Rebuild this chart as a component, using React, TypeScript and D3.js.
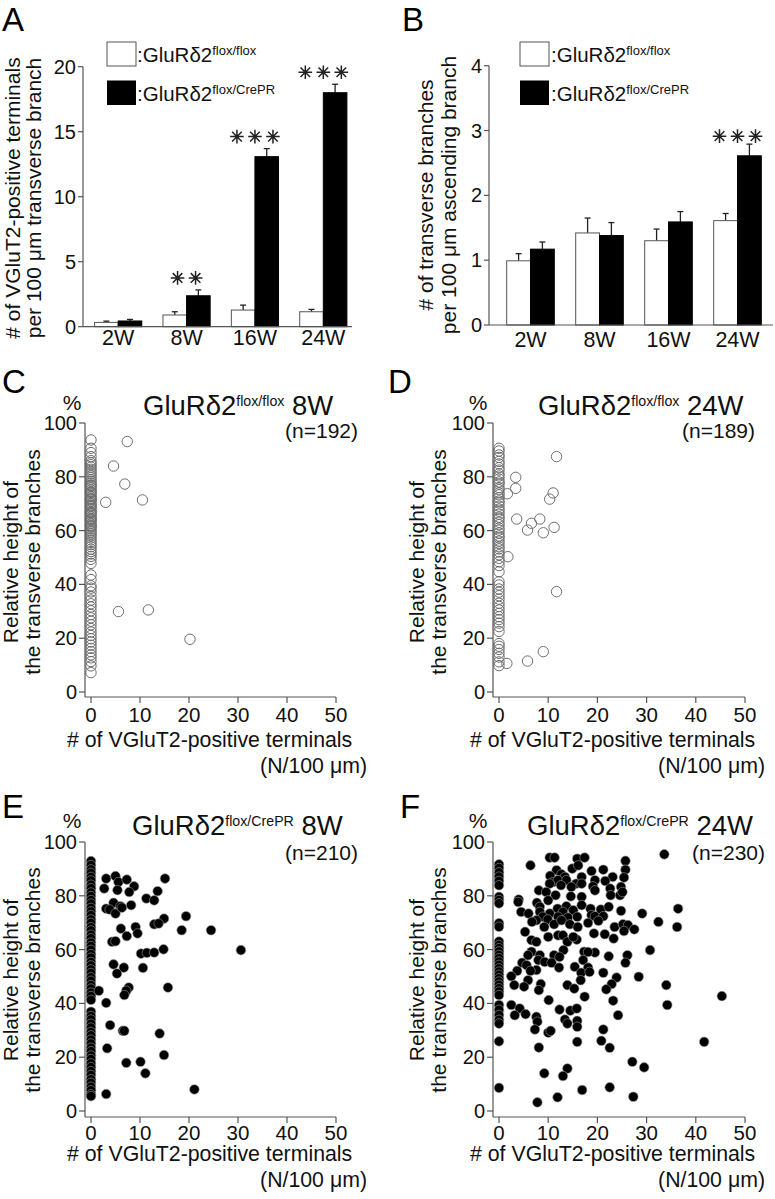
import React from 'react';
import * as d3 from 'd3';

const FONT = "'Liberation Sans', Arial, Helvetica, sans-serif";

// ---------- Bar chart data ----------
const weeks = ['2W', '8W', '16W', '24W'];
const series = ['flox', 'cre'];

const terminalsFlox = [0.33, 0.9, 1.28, 1.15];
const terminalsFloxErr = [0.1, 0.25, 0.38, 0.18];
const terminalsCre = [0.44, 2.38, 13.08, 18.0];
const terminalsCreErr = [0.12, 0.45, 0.62, 0.65];
const terminalsTicks = [0, 5, 10, 15, 20];
const terminalsStars = [0, 2, 3, 3];

const branchesFlox = [0.99, 1.42, 1.3, 1.61];
const branchesFloxErr = [0.11, 0.23, 0.18, 0.11];
const branchesCre = [1.17, 1.38, 1.59, 2.61];
const branchesCreErr = [0.11, 0.2, 0.16, 0.18];
const branchesTicks = [0, 1, 2, 3, 4];
const branchesStars = [0, 0, 0, 3];

// ---------- Scatter data ----------
const scatterXTicks = [0, 10, 20, 30, 40, 50];
const scatterYTicks = [0, 20, 40, 60, 80, 100];

// C: flox/flox 8W
const c8wZero = [93.7, 90.6, 89.0, 87.5, 86.0, 85.2, 84.5, 83.6, 82.8, 82.0, 81.3, 80.5, 79.8, 79.0, 78.4, 77.7, 77.0, 76.4, 75.8, 75.1, 74.5, 73.9, 73.2, 72.6, 72.0, 71.4, 70.8, 70.1, 69.5, 68.9, 68.3, 67.7, 67.0, 66.4, 65.8, 65.1, 64.5, 63.9, 63.3, 62.6, 62.0, 61.4, 60.8, 60.1, 59.5, 58.8, 58.1, 57.3, 56.5, 55.6, 54.8, 54.0, 53.1, 52.2, 51.3, 50.4, 49.3, 47.8, 76.8, 74.2, 71.7, 69.2, 66.7, 64.2, 61.7, 43.5, 41.8, 39.5, 38.6, 37.2, 35.5, 34.2, 32.8, 31.6, 30.2, 28.8, 27.6, 26.3, 25.0, 23.6, 22.3, 21.0, 19.8, 18.6, 17.4, 16.2, 15.0, 13.8, 12.7, 11.3, 9.7, 7.2];
const c8wOther = [[3.0, 70.5], [4.6, 84.0], [7.4, 93.1], [6.9, 77.3], [10.5, 71.4], [5.6, 29.9], [11.7, 30.5], [20.2, 19.6]];

// D: flox/flox 24W
const d24wZero = [90.6, 89.6, 88.1, 87.2, 85.7, 84.8, 83.4, 82.5, 81.1, 80.3, 79.2, 78.1, 77.3, 76.0, 75.2, 74.1, 73.3, 72.2, 71.0, 70.3, 69.1, 68.0, 67.2, 66.1, 65.0, 64.3, 63.1, 62.2, 61.0, 60.2, 59.1, 58.0, 57.3, 56.1, 55.2, 54.0, 53.2, 52.1, 51.0, 49.7, 48.4, 47.0, 44.7, 41.0, 39.8, 38.3, 37.1, 35.8, 34.5, 33.0, 31.8, 30.5, 29.2, 28.0, 26.9, 25.6, 24.3, 22.5, 18.0, 17.0, 15.8, 14.4, 13.0, 11.2, 9.8];
const d24wOther = [[11.7, 87.5], [3.4, 79.8], [3.4, 75.7], [1.7, 73.7], [11.0, 74.0], [10.3, 71.7], [3.6, 64.3], [8.3, 64.3], [6.6, 62.7], [5.8, 60.2], [9.0, 59.2], [11.2, 61.2], [1.8, 50.3], [11.7, 37.3], [9.0, 15.0], [5.8, 11.5], [1.6, 10.6]];

// E: flox/CrePR 8W
const e8wZero = [92.9, 91.4, 89.8, 88.5, 87.0, 85.7, 84.1, 82.8, 81.2, 79.9, 78.4, 77.1, 75.5, 74.2, 72.8, 71.2, 69.9, 68.3, 67.1, 65.5, 64.2, 62.6, 61.3, 59.9, 58.3, 57.0, 55.4, 54.1, 52.6, 51.3, 49.7, 48.4, 46.8, 45.5, 44.0, 42.7, 41.3, 36.9, 35.3, 34.0, 32.4, 31.0, 29.4, 28.1, 26.5, 25.1, 23.5, 22.2, 20.6, 19.3, 17.7, 16.3, 14.8, 13.4, 11.8, 10.5, 9.0, 7.7, 6.2, 5.5];
const e8wOther = [[3.1, 86.4], [5.0, 87.3], [5.6, 85.1], [7.3, 86.0], [8.8, 83.5], [2.7, 82.7], [5.4, 82.1], [7.8, 81.4], [15.1, 86.4], [13.6, 81.7], [11.3, 79.0], [12.9, 78.3], [4.6, 77.4], [8.2, 76.5], [3.1, 75.2], [3.8, 74.9], [5.0, 73.4], [6.0, 76.1], [6.3, 75.6], [14.9, 71.5], [19.4, 72.4], [12.9, 69.4], [13.8, 69.7], [9.1, 68.4], [6.1, 67.8], [9.5, 66.0], [7.3, 65.0], [18.5, 67.2], [24.5, 67.2], [4.3, 62.9], [5.0, 63.1], [30.6, 59.8], [10.2, 58.5], [11.4, 58.8], [12.9, 58.9], [14.8, 60.1], [4.6, 54.5], [6.7, 53.3], [10.6, 53.2], [5.3, 51.1], [7.7, 45.9], [7.2, 44.7], [15.7, 45.9], [1.6, 44.7], [6.8, 43.1], [3.1, 40.2], [3.9, 31.9], [6.5, 29.8], [6.8, 29.8], [14.0, 28.8], [3.3, 23.3], [14.9, 20.8], [7.2, 17.9], [10.1, 18.3], [11.1, 14.0], [3.1, 6.3], [21.1, 8.0]];

// F: flox/CrePR 24W
const f24wZero = [91.7, 90.3, 88.7, 87.1, 85.5, 83.9, 79.6, 78.4, 77.2, 69.8, 68.5, 63.0, 61.7, 60.5, 59.3, 58.0, 56.8, 55.5, 54.3, 53.0, 51.8, 50.6, 49.3, 48.1, 46.9, 45.6, 44.4, 43.1, 39.4, 37.6, 35.7, 33.9, 32.5, 25.9, 8.6];
const f24wOther = [
  [33.6, 95.4], [10.3, 94.2], [11.3, 94.2], [15.9, 93.8], [17.4, 94.2], [25.7, 93.0], [6.4, 91.3], [14.9, 90.1], [16.1, 91.3], [18.8, 89.2],
  [21.2, 89.7], [25.7, 89.7], [11.7, 89.5], [12.7, 88.0], [10.4, 87.4], [13.4, 87.0], [16.8, 87.0], [23.1, 87.0], [19.5, 85.8], [21.6, 85.5],
  [11.0, 85.1], [12.0, 85.8], [13.7, 85.8], [15.7, 84.5], [16.8, 84.5], [25.4, 86.8], [24.8, 83.3], [10.3, 84.5], [12.6, 83.9], [14.7, 83.3],
  [19.1, 83.5], [22.6, 82.7], [8.1, 82.0], [9.6, 81.4], [11.5, 80.2], [14.6, 79.8], [16.8, 79.6], [19.5, 82.0], [22.7, 80.2], [24.6, 80.2],
  [25.1, 81.4], [4.0, 78.6], [3.9, 77.7], [7.7, 77.4], [8.3, 75.9], [10.0, 78.3], [11.9, 75.2], [13.7, 76.1], [13.0, 74.0], [15.1, 74.6],
  [16.8, 76.5], [18.6, 75.2], [20.7, 74.9], [22.3, 75.9], [24.8, 74.4], [4.5, 74.0], [6.0, 73.4], [8.3, 74.0], [10.3, 73.4], [8.9, 72.2],
  [12.0, 72.2], [14.0, 71.9], [15.9, 72.2], [18.8, 72.8], [19.5, 72.4], [21.2, 72.4], [29.1, 73.4], [7.6, 70.9], [6.7, 70.3], [9.9, 71.2],
  [11.2, 69.4], [12.7, 70.9], [14.4, 69.4], [16.0, 68.4], [18.1, 69.9], [20.2, 70.7], [23.5, 68.4], [25.2, 69.4], [26.2, 69.1], [27.5, 67.5],
  [32.4, 70.3], [36.4, 75.2], [36.2, 68.4], [9.2, 68.4], [5.3, 66.6], [10.0, 64.7], [12.0, 65.3], [13.0, 65.3], [13.9, 62.9], [15.8, 63.7],
  [19.3, 66.0], [21.5, 65.7], [25.4, 66.9], [6.6, 63.5], [7.6, 62.9], [23.3, 64.1], [15.1, 64.7], [13.1, 59.8], [30.7, 59.8], [6.6, 59.2],
  [8.3, 57.9], [5.9, 57.9], [11.2, 57.9], [12.3, 57.3], [17.3, 59.2], [19.5, 58.9], [22.3, 57.5], [26.1, 57.9], [18.1, 59.1], [8.0, 56.1],
  [9.3, 55.4], [10.7, 55.1], [17.1, 56.1], [25.7, 55.1], [4.7, 55.1], [5.6, 54.2], [7.6, 52.4], [6.4, 52.1], [12.2, 53.3], [15.4, 53.6],
  [18.1, 53.3], [16.7, 51.4], [18.4, 51.7], [21.2, 51.4], [3.7, 52.1], [2.5, 50.1], [28.4, 49.9], [23.9, 49.6], [5.9, 48.6], [16.6, 48.6],
  [8.5, 47.2], [3.1, 46.8], [5.1, 46.2], [13.9, 46.8], [15.3, 45.5], [8.1, 44.9], [22.9, 47.2], [21.8, 45.2], [34.0, 46.8], [45.3, 42.7],
  [17.4, 42.5], [10.1, 41.2], [23.2, 41.0], [2.5, 39.4], [34.2, 39.4], [4.2, 38.1], [12.3, 37.7], [14.5, 37.3], [15.8, 38.1], [3.2, 35.6],
  [5.4, 36.0], [24.2, 35.6], [7.6, 35.0], [7.8, 33.2], [13.4, 34.0], [13.9, 32.5], [15.9, 33.5], [15.9, 31.3], [7.3, 30.3], [10.0, 29.1],
  [10.5, 29.8], [21.2, 30.3], [15.9, 25.7], [20.8, 26.1], [41.7, 25.7], [8.1, 23.6], [22.5, 23.5], [27.1, 18.3], [29.5, 16.2], [13.9, 15.8],
  [9.2, 14.0], [13.0, 13.0], [16.9, 7.8], [22.5, 8.8], [11.9, 5.1], [27.3, 5.3], [7.8, 3.2]
];

// ---------- helpers ----------
function Star({ cx, cy, r }: { cx: number; cy: number; r: number }) {
  const d = [0, 45, 90, 135]
    .map((a) => {
      const rad = (a * Math.PI) / 180;
      const dx = r * Math.cos(rad);
      const dy = r * Math.sin(rad);
      return `M${cx - dx},${cy - dy}L${cx + dx},${cy + dy}`;
    })
    .join('');
  return <path d={d} stroke="#222" strokeWidth={1.5} fill="none" />;
}

type BarCfg = {
  letter: string; letterX: number; letterY: number;
  axisX: number; axisEnd: number; band: [number, number];
  yTop: number; yBot: number; max: number;
  legendBoxX: number; legendTextX: number;
  ylab: [string, string]; ylabX1: number; ylabX2: number; ylabCY: number;
  tickLabY: number; starGap: number;
};

function BarPanel({ cfg, flox, floxErr, cre, creErr, ticks, stars }: any) {
  const c: BarCfg = cfg;
  const x = d3.scaleBand<string>().domain(weeks).range(c.band).paddingInner(0.31).paddingOuter(0.155);
  const sub = d3.scaleBand<string>().domain(series).range([0, x.bandwidth()]);
  const y = d3.scaleLinear().domain([0, c.max]).range([c.yBot, c.yTop]);
  const vals = [flox, cre];
  const errs = [floxErr, creErr];
  return (
    <g fontFamily={FONT}>
      <text x={c.letterX} y={c.letterY} fontSize={33}>{c.letter}</text>
      {weeks.map((w, i) =>
        series.map((s, k) => {
          const bx = (x(w) as number) + (sub(s) as number);
          const v = vals[k][i];
          const e = errs[k][i];
          const cxm = bx + sub.bandwidth() / 2;
          return (
            <g key={w + s}>
              <line x1={cxm} x2={cxm} y1={y(v)} y2={y(v + e)} stroke="#222" strokeWidth={1.3} />
              <line x1={cxm - 3} x2={cxm + 3} y1={y(v + e)} y2={y(v + e)} stroke="#222" strokeWidth={1.3} />
              <rect x={bx} y={y(v)} width={sub.bandwidth()} height={c.yBot - y(v)}
                fill={k === 0 ? '#fff' : '#000'} stroke={k === 0 ? '#555' : '#000'} strokeWidth={1} />
            </g>
          );
        })
      )}
      {weeks.map((w, i) => {
        const n = stars[i];
        if (!n) return null;
        const top = y(cre[i] + creErr[i]) - c.starGap;
        const cx = (x(w) as number) + x.bandwidth() / 2;
        const arr = d3.range(n).map((j) => cx + (j - (n - 1) / 2) * 18);
        return arr.map((sx, j) => <Star key={w + j} cx={sx} cy={top} r={6.8} />);
      })}
      <line x1={c.axisX} x2={c.axisX} y1={c.yTop} y2={c.yBot} stroke="#555" strokeWidth={1.2} />
      <line x1={c.axisX} x2={c.axisEnd} y1={c.yBot} y2={c.yBot} stroke="#555" strokeWidth={1.2} />
      {ticks.map((t: number) => (
        <g key={t}>
          <line x1={c.axisX - 5} x2={c.axisX} y1={y(t)} y2={y(t)} stroke="#555" strokeWidth={1.2} />
          <text x={c.axisX - 7} y={y(t)} dy="0.35em" textAnchor="end" fontSize={20} fill="#111">{t}</text>
        </g>
      ))}
      {weeks.map((w) => (
        <text key={w} x={(x(w) as number) + x.bandwidth() / 2} y={c.tickLabY} textAnchor="middle" fontSize={21.5} fill="#111">{w}</text>
      ))}
      <rect x={c.legendBoxX} y={42} width={29} height={24} fill="#fff" stroke="#555" strokeWidth={1} />
      <rect x={c.legendBoxX} y={80.5} width={29} height={24.5} fill="#000" />
      <text x={c.legendTextX} y={62} fontSize={20.5} fill="#111">:GluRδ2<tspan dy={-7} fontSize={13}>flox/flox</tspan></text>
      <text x={c.legendTextX} y={100.5} fontSize={20.5} fill="#111">:GluRδ2<tspan dy={-7} fontSize={13}>flox/CrePR</tspan></text>
      <text transform={`translate(${c.ylabX1},${c.ylabCY}) rotate(-90)`} textAnchor="middle" fontSize={21} fill="#111">{c.ylab[0]}</text>
      <text transform={`translate(${c.ylabX2},${c.ylabCY}) rotate(-90)`} textAnchor="middle" fontSize={21} fill="#111">{c.ylab[1]}</text>
    </g>
  );
}

function ScatterPanel({ cfg, zero, other }: any) {
  const c = cfg;
  const x = d3.scaleLinear().domain([0, 50]).range([c.x0, c.x50]);
  const y = d3.scaleLinear().domain([0, 100]).range([c.yBot, c.yTop]);
  const pts: [number, number][] = [...zero.map((v: number) => [0, v]), ...other];
  return (
    <g fontFamily={FONT}>
      <text x={c.letterX} y={c.letterY} fontSize={33}>{c.letter}</text>
      <text x={c.pctX} y={c.pctY} textAnchor="middle" fontSize={21} fill="#111">%</text>
      <text x={c.titleX} y={c.titleY} fontSize={27.5} fill="#111">
        GluRδ2<tspan dy={-9.5} fontSize={14.2}>{c.sup}</tspan><tspan dy={9.5} fontSize={27.5}>{' ' + c.week}</tspan>
      </text>
      <text x={c.nX} y={c.nY} textAnchor="end" fontSize={21} fill="#111">{c.n}</text>
      {pts.map((p, i) =>
        c.filled ? (
          <circle key={i} cx={x(p[0])} cy={y(p[1])} r={4.8} fill="#000" stroke="#9a9a9a" strokeWidth={0.6} />
        ) : (
          <circle key={i} cx={x(p[0])} cy={y(p[1])} r={5.2} fill="none" stroke="#6f6f6f" strokeWidth={1} />
        )
      )}
      <line x1={c.axisX} x2={c.axisX} y1={c.yTop} y2={c.xAxisY} stroke="#555" strokeWidth={1.2} />
      <line x1={c.axisX} x2={c.x50} y1={c.xAxisY} y2={c.xAxisY} stroke="#555" strokeWidth={1.2} />
      {scatterYTicks.map((t) => (
        <g key={'y' + t}>
          <line x1={c.axisX - 6} x2={c.axisX} y1={y(t)} y2={y(t)} stroke="#555" strokeWidth={1.2} />
          <text x={c.axisX - 8} y={y(t)} dy="0.35em" textAnchor="end" fontSize={20} fill="#111">{t}</text>
        </g>
      ))}
      {scatterXTicks.map((t) => (
        <g key={'x' + t}>
          <line x1={x(t)} x2={x(t)} y1={c.xAxisY} y2={c.xAxisY + 6} stroke="#555" strokeWidth={1.2} />
          <text x={x(t)} y={c.tickLabY} textAnchor="middle" fontSize={20.5} fill="#111">{t}</text>
        </g>
      ))}
      <text x={c.xlabX} y={c.xlabY} fontSize={21.3} fill="#111"># of VGluT2-positive terminals</text>
      <text x={c.xlab2X} y={c.xlab2Y} textAnchor="end" fontSize={21.3} fill="#111">(N/100 μm)</text>
      <text transform={`translate(${c.ylabX1},${c.ylabCY}) rotate(-90)`} textAnchor="middle" fontSize={21} fill="#111">Relative height of</text>
      <text transform={`translate(${c.ylabX2},${c.ylabCY}) rotate(-90)`} textAnchor="middle" fontSize={21} fill="#111">the transverse branches</text>
    </g>
  );
}

const panelA: BarCfg = {
  letter: 'A', letterX: 2, letterY: 31, axisX: 83, axisEnd: 352, band: [84, 357.5],
  yTop: 66.7, yBot: 326.7, max: 20, legendBoxX: 107, legendTextX: 137,
  ylab: ['# of VGluT2-positive terminals', 'per 100 μm transverse branch'],
  ylabX1: 20, ylabX2: 41, ylabCY: 198, tickLabY: 345, starGap: 12,
};
const panelB: BarCfg = {
  letter: 'B', letterX: 402, letterY: 31, axisX: 489, axisEnd: 773, band: [496, 772],
  yTop: 65.7, yBot: 325, max: 4, legendBoxX: 520, legendTextX: 551,
  ylab: ['# of transverse branches', 'per 100 μm ascending branch'],
  ylabX1: 433, ylabX2: 456, ylabCY: 195, tickLabY: 347, starGap: 8,
};

const leftGeom = { axisX: 85, x0: 91, x50: 336, pctX: 72, ylabX1: 18, ylabX2: 40, xlabX: 67, xlab2X: 367 };
const rightGeom = { axisX: 493, x0: 499, x50: 745, pctX: 478, ylabX1: 424, ylabX2: 446, xlabX: 470, xlab2X: 765 };
const topGeom = { yTop: 423, yBot: 692, xAxisY: 697, pctY: 410, titleY: 415, nY: 438, ylabCY: 562, tickLabY: 722, xlabY: 747, xlab2Y: 773, letterY: 393 };
const botGeom = { yTop: 842, yBot: 1111, xAxisY: 1117, pctY: 828, titleY: 835, nY: 860, ylabCY: 980, tickLabY: 1140, xlabY: 1161, xlab2Y: 1187, letterY: 818 };

const panelC = { ...leftGeom, ...topGeom, letter: 'C', letterX: 2, titleX: 143, sup: 'flox/flox', week: '8W', nX: 358, n: '(n=192)', filled: false };
const panelD = { ...rightGeom, ...topGeom, letter: 'D', letterX: 388, titleX: 538, sup: 'flox/flox', week: '24W', nX: 755, n: '(n=189)', filled: false };
const panelE = { ...leftGeom, ...botGeom, letter: 'E', letterX: 2, titleX: 132, sup: 'flox/CrePR', week: '8W', nX: 358, n: '(n=210)', filled: true };
const panelF = { ...rightGeom, ...botGeom, letter: 'F', letterX: 400, titleX: 527, sup: 'flox/CrePR', week: '24W', nX: 765, n: '(n=230)', filled: true };

export default function App() {
  return (
    <svg width={775} height={1199} viewBox="0 0 775 1199"
      style={{ position: 'absolute', left: 0, top: 0, background: '#fff' }}>
      <rect x={0} y={0} width={775} height={1199} fill="#fff" />
      <BarPanel cfg={panelA} flox={terminalsFlox} floxErr={terminalsFloxErr} cre={terminalsCre} creErr={terminalsCreErr} ticks={terminalsTicks} stars={terminalsStars} />
      <BarPanel cfg={panelB} flox={branchesFlox} floxErr={branchesFloxErr} cre={branchesCre} creErr={branchesCreErr} ticks={branchesTicks} stars={branchesStars} />
      <ScatterPanel cfg={panelC} zero={c8wZero} other={c8wOther} />
      <ScatterPanel cfg={panelD} zero={d24wZero} other={d24wOther} />
      <ScatterPanel cfg={panelE} zero={e8wZero} other={e8wOther} />
      <ScatterPanel cfg={panelF} zero={f24wZero} other={f24wOther} />
    </svg>
  );
}
